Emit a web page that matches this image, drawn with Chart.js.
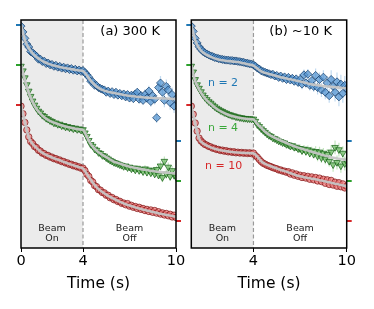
<!DOCTYPE html>
<html>
<head>
<meta charset="utf-8">
<script src="https://cdn.jsdelivr.net/npm/chart.js@4.4.0/dist/chart.umd.min.js"></script>
<style>
html, body { margin: 0; padding: 0; background: #fff; }
#wrap { position: relative; width: 374px; height: 309px; overflow: hidden; }
canvas { position: absolute; top: 0; }
#cA { left: 0; }
#cB { left: 180px; }
</style>
</head>
<body>
<div id="wrap">
  <canvas id="cA" width="190" height="309"></canvas>
  <canvas id="cB" width="194" height="309"></canvas>
</div>
<script>
// time grids (s): fit curves and measured points
const fitTimes = [0,0.25,0.5,0.75,1,1.25,1.5,1.75,2,2.25,2.5,2.75,3,3.25,3.5,3.75,4,4.25,4.5,4.75,5,5.25,5.5,5.75,6,6.25,6.5,6.75,7,7.25,7.5,7.75,8,8.25,8.5,8.75,9,9.25,9.5,9.75,10];
const ptTimes = [0,0.125,0.25,0.375,0.5,0.625,0.75,0.875,1,1.125,1.25,1.375,1.5,1.625,1.75,1.875,2,2.125,2.25,2.375,2.5,2.625,2.75,2.875,3,3.125,3.25,3.375,3.5,3.625,3.75,3.875,4,
  4.125,4.25,4.375,4.5,4.625,4.75,4.875,5,5.125,5.25,5.375,5.5,5.625,5.75,5.875,6,6.125,6.25,6.375,6.5,6.625,6.75,6.875,7,7.125,7.25,7.375,7.5,7.625,7.75,7.875,8,8.125,8.25,8.375,8.5,8.625,8.75,8.875,9,9.125,9.25,9.375,9.5,9.625,9.75,9.875,10];

// (a) 300 K
const fitA2  = [1.0,0.87,0.80,0.755,0.724,0.70,0.681,0.667,0.655,0.646,0.638,0.631,0.625,0.619,0.613,0.608,0.603,0.565,0.52,0.485,0.457,0.44,0.428,0.42,0.414,0.407,0.40,0.394,0.388,0.385,0.381,0.378,0.375,0.373,0.371,0.369,0.368,0.366,0.365,0.363,0.362];
const ptsA2  = [0.99,0.94,0.885,0.835,0.81,0.77,0.76,0.745,0.73,0.705,0.705,0.685,0.688,0.668,0.672,0.656,0.66,0.644,0.652,0.636,0.643,0.628,0.636,0.622,0.63,0.616,0.624,0.61,0.618,0.604,0.612,0.60,0.607,
  0.59,0.57,0.55,0.515,0.51,0.48,0.478,0.46,0.452,0.445,0.44,0.42,0.43,0.41,0.425,0.40,0.42,0.395,0.41,0.39,0.405,0.38,0.40,0.37,0.395,0.365,0.405,0.42,0.36,0.39,0.35,0.40,0.37,0.43,0.34,0.39,0.36,0.20,0.46,0.50,0.42,0.35,0.47,0.44,0.33,0.40,0.30,0.36];
const fitA4  = [1.0,0.87,0.76,0.68,0.62,0.58,0.55,0.527,0.51,0.497,0.485,0.474,0.465,0.458,0.451,0.445,0.44,0.38,0.318,0.278,0.248,0.225,0.205,0.185,0.166,0.155,0.144,0.133,0.123,0.116,0.109,0.102,0.096,0.09,0.085,0.08,0.076,0.073,0.07,0.067,0.064];
const ptsA4  = [0.99,0.95,0.89,0.83,0.775,0.73,0.69,0.655,0.628,0.602,0.587,0.566,0.556,0.54,0.532,0.52,0.514,0.5,0.5,0.488,0.49,0.476,0.479,0.465,0.47,0.458,0.462,0.45,0.456,0.444,0.45,0.438,0.443,
  0.415,0.385,0.35,0.315,0.30,0.275,0.265,0.245,0.238,0.22,0.215,0.2,0.19,0.178,0.17,0.16,0.155,0.148,0.14,0.135,0.125,0.13,0.115,0.12,0.105,0.112,0.095,0.11,0.09,0.1,0.08,0.105,0.075,0.095,0.07,0.088,0.06,0.1,0.05,0.13,0.03,0.17,0.06,0.12,0.04,0.09,0.05,0.035];
const fitA10 = [1.0,0.853,0.72,0.665,0.63,0.60,0.578,0.562,0.548,0.535,0.523,0.51,0.498,0.486,0.475,0.464,0.453,0.405,0.355,0.31,0.275,0.25,0.228,0.208,0.19,0.174,0.158,0.145,0.133,0.123,0.113,0.104,0.094,0.086,0.078,0.07,0.063,0.056,0.05,0.043,0.037];
const ptsA10 = [0.99,0.925,0.85,0.785,0.725,0.685,0.668,0.642,0.633,0.61,0.603,0.585,0.581,0.566,0.565,0.551,0.551,0.537,0.538,0.525,0.526,0.512,0.513,0.5,0.501,0.488,0.489,0.476,0.478,0.466,0.467,0.455,0.456,
  0.435,0.402,0.385,0.35,0.337,0.305,0.296,0.27,0.266,0.245,0.243,0.222,0.222,0.2,0.203,0.183,0.186,0.168,0.17,0.152,0.155,0.14,0.15,0.128,0.135,0.118,0.125,0.108,0.118,0.1,0.108,0.09,0.1,0.082,0.095,0.075,0.09,0.068,0.08,0.06,0.07,0.052,0.065,0.045,0.058,0.035,0.05,0.03];

// (b) ~10 K
const fitB2  = [1.0,0.87,0.80,0.762,0.741,0.725,0.712,0.702,0.695,0.69,0.687,0.684,0.68,0.673,0.665,0.658,0.65,0.625,0.60,0.587,0.578,0.568,0.559,0.55,0.543,0.535,0.528,0.52,0.512,0.504,0.496,0.488,0.483,0.479,0.474,0.47,0.466,0.463,0.46,0.457,0.454];
const ptsB2  = [0.99,0.945,0.885,0.845,0.812,0.79,0.772,0.76,0.75,0.742,0.733,0.728,0.72,0.716,0.71,0.707,0.703,0.7,0.697,0.697,0.693,0.694,0.69,0.69,0.686,0.684,0.68,0.678,0.672,0.67,0.665,0.663,0.656,
  0.645,0.628,0.62,0.605,0.598,0.592,0.585,0.58,0.572,0.575,0.56,0.565,0.548,0.56,0.54,0.552,0.53,0.548,0.525,0.54,0.515,0.535,0.505,0.53,0.49,0.57,0.50,0.575,0.48,0.52,0.47,0.565,0.46,0.53,0.44,0.55,0.42,0.50,0.39,0.53,0.47,0.42,0.51,0.38,0.49,0.41,0.48,0.45];
const fitB4  = [1.0,0.86,0.79,0.735,0.695,0.665,0.635,0.612,0.594,0.578,0.565,0.555,0.547,0.541,0.536,0.533,0.53,0.49,0.458,0.425,0.40,0.38,0.364,0.349,0.336,0.32,0.306,0.294,0.282,0.272,0.262,0.252,0.242,0.232,0.222,0.213,0.205,0.198,0.192,0.186,0.181];
const ptsB4  = [0.99,0.94,0.875,0.83,0.8,0.77,0.742,0.72,0.702,0.684,0.671,0.655,0.641,0.628,0.618,0.607,0.6,0.59,0.584,0.575,0.571,0.563,0.561,0.553,0.552,0.546,0.545,0.54,0.54,0.536,0.537,0.533,0.534,
  0.515,0.485,0.47,0.45,0.435,0.42,0.405,0.392,0.385,0.37,0.365,0.355,0.345,0.34,0.33,0.328,0.315,0.312,0.3,0.305,0.29,0.292,0.278,0.28,0.262,0.275,0.255,0.27,0.24,0.26,0.23,0.255,0.215,0.25,0.2,0.24,0.19,0.23,0.17,0.25,0.14,0.29,0.16,0.27,0.13,0.24,0.15,0.17];
const fitB10 = [1.0,0.84,0.71,0.67,0.65,0.635,0.623,0.614,0.607,0.602,0.597,0.593,0.59,0.588,0.586,0.585,0.583,0.555,0.515,0.492,0.478,0.465,0.452,0.44,0.43,0.418,0.407,0.395,0.385,0.378,0.371,0.365,0.36,0.352,0.345,0.337,0.33,0.322,0.315,0.307,0.30];
const ptsB10 = [0.99,0.92,0.845,0.775,0.715,0.69,0.674,0.66,0.654,0.643,0.639,0.628,0.627,0.617,0.617,0.608,0.611,0.602,0.606,0.596,0.6,0.592,0.597,0.588,0.593,0.586,0.591,0.584,0.589,0.582,0.588,0.581,0.586,
  0.565,0.55,0.53,0.512,0.498,0.49,0.48,0.474,0.468,0.46,0.455,0.45,0.44,0.44,0.43,0.43,0.42,0.425,0.405,0.415,0.395,0.405,0.385,0.395,0.375,0.39,0.37,0.385,0.36,0.38,0.355,0.375,0.345,0.37,0.34,0.36,0.325,0.355,0.315,0.35,0.31,0.335,0.3,0.33,0.295,0.32,0.285,0.3];

// error bar half-length per 1 s bin (0-1 s, 1-2 s, ... , 10 s)
const errA2  = [0.01,0.01,0.01,0.01,0.015,0.02,0.03,0.035,0.045,0.06,0.08];
const errA4  = [0.01,0.01,0.01,0.01,0.01,0.015,0.02,0.025,0.03,0.04,0.05];
const errA10 = [0.008,0.008,0.008,0.008,0.008,0.01,0.012,0.014,0.016,0.02,0.022];
const errB2  = [0.012,0.012,0.012,0.012,0.02,0.025,0.035,0.045,0.06,0.08,0.1];
const errB4  = [0.01,0.01,0.01,0.01,0.015,0.02,0.025,0.035,0.045,0.06,0.07];
const errB10 = [0.01,0.01,0.01,0.01,0.012,0.014,0.016,0.02,0.024,0.028,0.032];

const beamOff = 4;
// vertical stacking of the curves (n = 2 top, n = 10 bottom)
const shift2 = 0.69, shift4 = 0.345, shift10 = 0;

const blue = '#1f77b4', green = '#2ca02c', red = '#d62728';
const FONT = 'DejaVu Sans';

function toXY(ts, vals, off) {
  return ts.map((t, i) => ({ x: t, y: vals[i] + off }));
}

function fitSet(vals, off) {
  return {
    data: toXY(fitTimes, vals, off), showLine: true, pointRadius: 0,
    borderColor: 'rgba(198,198,198,0.95)', borderWidth: 2.6,
    cubicInterpolationMode: 'monotone', order: 0
  };
}

function dataSet(vals, err, off, style) {
  return Object.assign({
    data: toXY(ptTimes, vals, off), err: err, order: 1, borderWidth: 0.8
  }, style);
}

const blueStyle  = { pointStyle: 'rectRot', pointRadius: 4, backgroundColor: 'rgba(85,150,210,0.75)', borderColor: 'rgba(20,60,105,0.9)', errColor: 'rgba(120,175,225,0.45)' };
const greenStyle = { pointStyle: 'triangle', rotation: 180, pointRadius: 3.8, backgroundColor: 'rgba(105,185,95,0.7)', borderColor: 'rgba(20,95,20,0.9)', errColor: 'rgba(120,200,110,0.45)' };
const redStyle   = { pointStyle: 'circle', pointRadius: 3.2, backgroundColor: 'rgba(240,120,120,0.7)', borderColor: 'rgba(125,20,20,0.9)', errColor: 'rgba(240,130,130,0.45)' };

const panelDeco = {
  id: 'panelDeco',
  beforeDatasetsDraw(chart) {
    const { ctx, chartArea: a, scales: { x, y } } = chart;
    ctx.save();
    ctx.beginPath();
    ctx.rect(a.left, a.top, a.width, a.height);
    ctx.clip();
    const xb = x.getPixelForValue(beamOff);
    ctx.fillStyle = '#ebebeb';
    ctx.fillRect(a.left, a.top, xb - a.left, a.height);
    ctx.strokeStyle = '#9a9a9a';
    ctx.lineWidth = 1.2;
    ctx.setLineDash([4, 2.5]);
    ctx.beginPath();
    ctx.moveTo(xb, a.top);
    ctx.lineTo(xb, a.bottom);
    ctx.stroke();
    ctx.setLineDash([]);
    // error bars
    chart.data.datasets.forEach(ds => {
      if (!ds.err) return;
      ctx.strokeStyle = ds.errColor;
      ctx.lineWidth = 1.2;
      ds.data.forEach(p => {
        const e = ds.err[Math.floor(p.x)];
        const px = x.getPixelForValue(p.x);
        ctx.beginPath();
        ctx.moveTo(px, y.getPixelForValue(p.y - e));
        ctx.lineTo(px, y.getPixelForValue(p.y + e));
        ctx.stroke();
      });
    });
    ctx.restore();
  },
  afterDraw(chart) {
    const { ctx, chartArea: a, scales: { x, y } } = chart;
    ctx.save();
    ctx.lineWidth = 2;
    [[blue, shift2], [green, shift4], [red, shift10]].forEach(([c, o]) => {
      ctx.strokeStyle = c;
      const yt = y.getPixelForValue(o + 1), yb = y.getPixelForValue(o);
      ctx.beginPath();
      ctx.moveTo(a.left - 5, yt); ctx.lineTo(a.left, yt);
      ctx.moveTo(a.right, yb); ctx.lineTo(a.right + 5, yb);
      ctx.stroke();
    });
    ctx.strokeStyle = '#000';
    ctx.lineWidth = 1.5;
    ctx.strokeRect(a.left, a.top, a.width, a.height);
    // labels
    ctx.textBaseline = 'middle';
    chart.options.notes.forEach(n => {
      ctx.font = n.size + 'px "' + FONT + '"';
      ctx.fillStyle = n.color;
      ctx.textAlign = n.align;
      const py = n.py !== undefined ? a.bottom - n.py : y.getPixelForValue(n.y);
      ctx.fillText(n.text, x.getPixelForValue(n.x), py);
    });
    ctx.restore();
  }
};

function makePanel(id, pad, sets, xticks, notes) {
  return new Chart(document.getElementById(id), {
    type: 'scatter',
    data: { datasets: sets },
    options: {
      responsive: false,
      animation: false,
      notes: notes,
      layout: { padding: pad },
      plugins: { legend: { display: false }, tooltip: { enabled: false } },
      scales: {
        x: {
          type: 'linear', min: 0, max: 10,
          afterBuildTicks: s => { s.ticks = xticks.map(v => ({ value: v })); },
          afterFit: s => { s.height = 61; },
          grid: { display: true, drawOnChartArea: false, drawTicks: true, tickLength: 4, color: '#000' },
          border: { display: false },
          ticks: { font: { family: FONT, size: 14.5 }, color: '#000', padding: 1, maxRotation: 0, autoSkip: false },
          title: { display: true, text: 'Time (s)', color: '#000', font: { family: FONT, size: 15.5 }, padding: { top: 0, bottom: 16 } }
        },
        y: { display: false, min: -0.2328, max: 1.7328 }
      }
    },
    plugins: [panelDeco]
  });
}

const beamNotes = [
  { text: 'Beam', x: 2, py: 19, color: '#222', size: 9.5, align: 'center' },
  { text: 'On', x: 2, py: 9, color: '#222', size: 9.5, align: 'center' },
  { text: 'Beam', x: 7, py: 19, color: '#222', size: 9.5, align: 'center' },
  { text: 'Off', x: 7, py: 9, color: '#222', size: 9.5, align: 'center' }
];

makePanel('cA', { left: 21, right: 14, top: 20, bottom: 0 }, [
  fitSet(fitA2, shift2), fitSet(fitA4, shift4), fitSet(fitA10, shift10),
  dataSet(ptsA2, errA2, shift2, blueStyle),
  dataSet(ptsA4, errA4, shift4, greenStyle),
  dataSet(ptsA10, errA10, shift10, redStyle)
], [0, 4, 10], beamNotes.concat([
  { text: '(a) 300 K', x: 8.97, y: 1.629, color: '#000', size: 13, align: 'right' }
]));

makePanel('cB', { left: 11.3, right: 27.3, top: 20, bottom: 0 }, [
  fitSet(fitB2, shift2), fitSet(fitB4, shift4), fitSet(fitB10, shift10),
  dataSet(ptsB2, errB2, shift2, blueStyle),
  dataSet(ptsB4, errB4, shift4, greenStyle),
  dataSet(ptsB10, errB10, shift10, redStyle)
], [4, 10], beamNotes.concat([
  { text: '(b) ~10 K', x: 9.05, y: 1.629, color: '#000', size: 13, align: 'right' },
  { text: 'n = 2', x: 1.07, y: 1.19, color: blue, size: 11, align: 'left' },
  { text: 'n = 4', x: 1.07, y: 0.80, color: '#3aa83a', size: 11, align: 'left' },
  { text: 'n = 10', x: 0.88, y: 0.477, color: red, size: 11, align: 'left' }
]));
</script>
</body>
</html>
